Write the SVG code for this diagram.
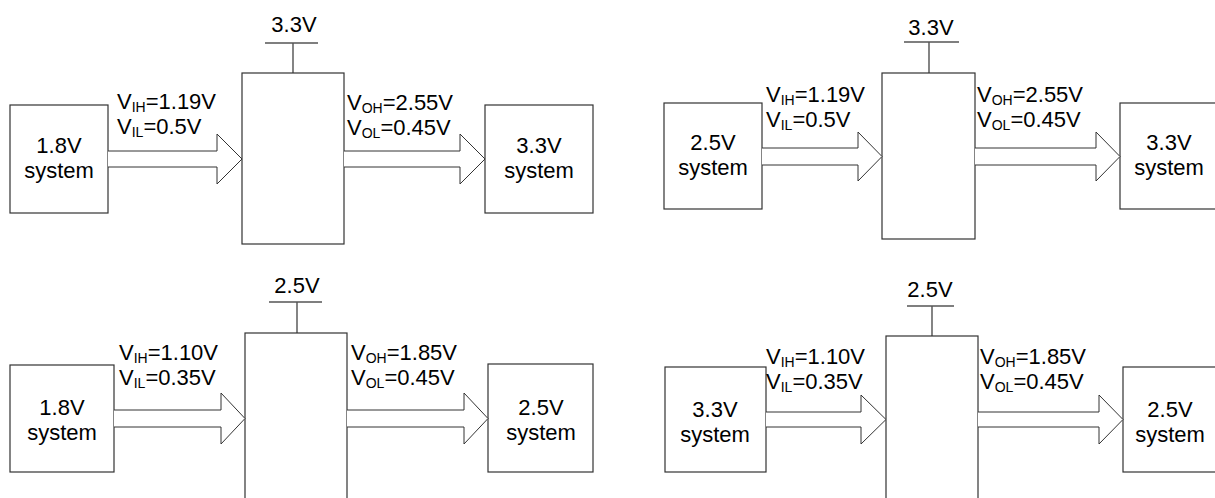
<svg xmlns="http://www.w3.org/2000/svg" width="1215" height="498" viewBox="0 0 1215 498">
<style>
.box{fill:#fff;stroke:#333;stroke-width:1.2}
.arr{fill:#fff;stroke:#333;stroke-width:1}
.rail{fill:none;stroke:#555;stroke-width:1.5}
.stem{fill:none;stroke:#333;stroke-width:1.2}
text{font-family:"Liberation Sans",Arial,sans-serif;font-size:22px;fill:#000}
.c{text-anchor:middle}
.s{font-size:14px}
</style>
<rect width="1215" height="498" fill="#fff"/>

<!-- Panel A -->
<g id="a-src"><rect class="box" x="10" y="105" width="98" height="108"/><text class="c" x="59" y="153">1.8V</text><text class="c" x="59" y="178">system</text></g>
<g id="a-conv"><rect class="box" x="242" y="73" width="102" height="171"/><line class="stem" x1="293" y1="43" x2="293" y2="73"/><line class="rail" x1="265" y1="43" x2="318" y2="43"/><text class="c" x="294" y="32">3.3V</text></g>
<g id="a-dst"><rect class="box" x="485" y="105" width="108" height="108"/><text class="c" x="539" y="153">3.3V</text><text class="c" x="539" y="178">system</text></g>
<g id="a-conn">
<path class="arr" d="M108,151 H217 V134 L242,159 L217,184 V167 H108"/>
<path class="arr" d="M344,151 H460 V134 L485,159 L460,184 V167 H344"/>
</g>
<g id="a-labels">
<text x="117" y="109">V<tspan class="s" dy="3">IH</tspan><tspan dy="-3">=1.19V</tspan></text>
<text x="117" y="134">V<tspan class="s" dy="3">IL</tspan><tspan dy="-3">=0.5V</tspan></text>
<text x="347" y="110">V<tspan class="s" dy="3">OH</tspan><tspan dy="-3">=2.55V</tspan></text>
<text x="347" y="135">V<tspan class="s" dy="3">OL</tspan><tspan dy="-3">=0.45V</tspan></text>
</g>

<!-- Panel B -->
<g id="b-src"><rect class="box" x="664" y="103" width="98" height="106"/><text class="c" x="713" y="150">2.5V</text><text class="c" x="713" y="175">system</text></g>
<g id="b-conv"><rect class="box" x="882" y="73" width="93" height="166"/><line class="stem" x1="929" y1="42" x2="929" y2="73"/><line class="rail" x1="904" y1="42" x2="959" y2="42"/><text class="c" x="931" y="35">3.3V</text></g>
<g id="b-dst"><rect class="box" x="1120" y="103" width="98" height="106"/><text class="c" x="1169" y="150">3.3V</text><text class="c" x="1169" y="175">system</text></g>
<g id="b-conn">
<path class="arr" d="M762,148 H858 V132 L882,156.5 L858,181 V165 H762"/>
<path class="arr" d="M975,148 H1096 V132 L1120,156.5 L1096,181 V165 H975"/>
</g>
<g id="b-labels">
<text x="766" y="102">V<tspan class="s" dy="3">IH</tspan><tspan dy="-3">=1.19V</tspan></text>
<text x="766" y="127">V<tspan class="s" dy="3">IL</tspan><tspan dy="-3">=0.5V</tspan></text>
<text x="977" y="102">V<tspan class="s" dy="3">OH</tspan><tspan dy="-3">=2.55V</tspan></text>
<text x="977" y="127">V<tspan class="s" dy="3">OL</tspan><tspan dy="-3">=0.45V</tspan></text>
</g>

<!-- Panel C -->
<g id="c-src"><rect class="box" x="10" y="365" width="104" height="107"/><text class="c" x="62" y="415">1.8V</text><text class="c" x="62" y="440">system</text></g>
<g id="c-conv"><rect class="box" x="245" y="333" width="102" height="180"/><line class="stem" x1="297" y1="302" x2="297" y2="333"/><line class="rail" x1="269" y1="302" x2="322" y2="302"/><text class="c" x="297" y="293">2.5V</text></g>
<g id="c-dst"><rect class="box" x="488" y="364" width="105" height="108"/><text class="c" x="541" y="415">2.5V</text><text class="c" x="541" y="440">system</text></g>
<g id="c-conn">
<path class="arr" d="M114,410 H221 V393 L245,418.5 L221,444 V427 H114"/>
<path class="arr" d="M347,410 H464 V393 L488,418.5 L464,444 V427 H347"/>
</g>
<g id="c-labels">
<text x="119" y="360">V<tspan class="s" dy="3">IH</tspan><tspan dy="-3">=1.10V</tspan></text>
<text x="119" y="385">V<tspan class="s" dy="3">IL</tspan><tspan dy="-3">=0.35V</tspan></text>
<text x="351" y="360">V<tspan class="s" dy="3">OH</tspan><tspan dy="-3">=1.85V</tspan></text>
<text x="351" y="385">V<tspan class="s" dy="3">OL</tspan><tspan dy="-3">=0.45V</tspan></text>
</g>

<!-- Panel D -->
<g id="d-src"><rect class="box" x="665" y="367" width="101" height="105"/><text class="c" x="715" y="417">3.3V</text><text class="c" x="715" y="442">system</text></g>
<g id="d-conv"><rect class="box" x="886" y="336" width="92" height="180"/><line class="stem" x1="932" y1="306" x2="932" y2="336"/><line class="rail" x1="907" y1="306" x2="954" y2="306"/><text class="c" x="930" y="297">2.5V</text></g>
<g id="d-dst"><rect class="box" x="1123" y="367" width="98" height="105"/><text class="c" x="1170" y="417">2.5V</text><text class="c" x="1170" y="442">system</text></g>
<g id="d-conn">
<path class="arr" d="M766,412 H861 V395 L886,419.5 L861,444 V427 H766"/>
<path class="arr" d="M978,412 H1099 V395 L1123,419.5 L1099,444 V427 H978"/>
</g>
<g id="d-labels">
<text x="766" y="364">V<tspan class="s" dy="3">IH</tspan><tspan dy="-3">=1.10V</tspan></text>
<text x="766" y="389">V<tspan class="s" dy="3">IL</tspan><tspan dy="-3">=0.35V</tspan></text>
<text x="980" y="364">V<tspan class="s" dy="3">OH</tspan><tspan dy="-3">=1.85V</tspan></text>
<text x="980" y="389">V<tspan class="s" dy="3">OL</tspan><tspan dy="-3">=0.45V</tspan></text>
</g>
</svg>
